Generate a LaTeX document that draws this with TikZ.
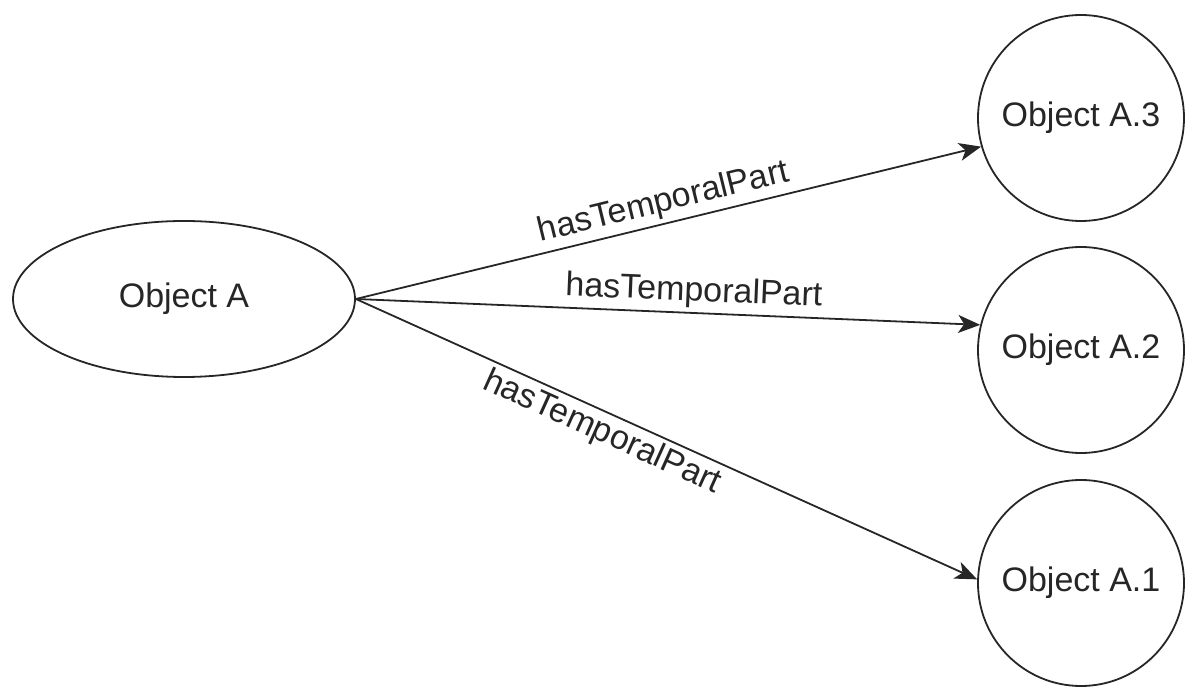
\documentclass[tikz,border=0pt]{standalone}
\usepackage{fontspec}
\setmainfont{Liberation Sans}
\usetikzlibrary{shapes.geometric,arrows.meta}
\tikzset{
  object/.style={draw=black!85, line width=0.9pt, inner sep=0pt, text=black!85,
    font=\fontsize{17}{20}\selectfont},
  whole/.style={object, ellipse, minimum width=171pt, minimum height=78pt},
  part/.style={object, circle, minimum size=103pt},
  temporal/.style={draw=black!85, line width=0.9pt,
    -{Stealth[length=11pt, width=9pt, inset=3pt]}},
  relation/.style={sloped, inner sep=2pt, text=black!85,
    font=\fontsize{17}{20}\selectfont},
}
\begin{document}
\begin{tikzpicture}[x=0.5pt,y=-0.5pt]
    \useasboundingbox (0,0) rectangle (1201,689);
    % objects
    \node[whole] (a) at (184,299) {Object A};
    \node[part] (a3) at (1081,118) {Object A.3};
    \node[part] (a2) at (1081,350) {Object A.2};
    \node[part] (a1) at (1081,583) {Object A.1};
    % temporal parts
    \draw[temporal] (a.east) -- node[relation, above, pos=0.5] (t3) {hasTemporalPart} (a3.196);
    \draw[temporal] (a.east) -- node[relation, above, pos=0.54] (t2) {hasTemporalPart} (a2.166);
    \draw[temporal] (a.east) -- node[relation, below, pos=0.41] (t1) {hasTemporalPart} (a1.178);
\end{tikzpicture}
\end{document}
